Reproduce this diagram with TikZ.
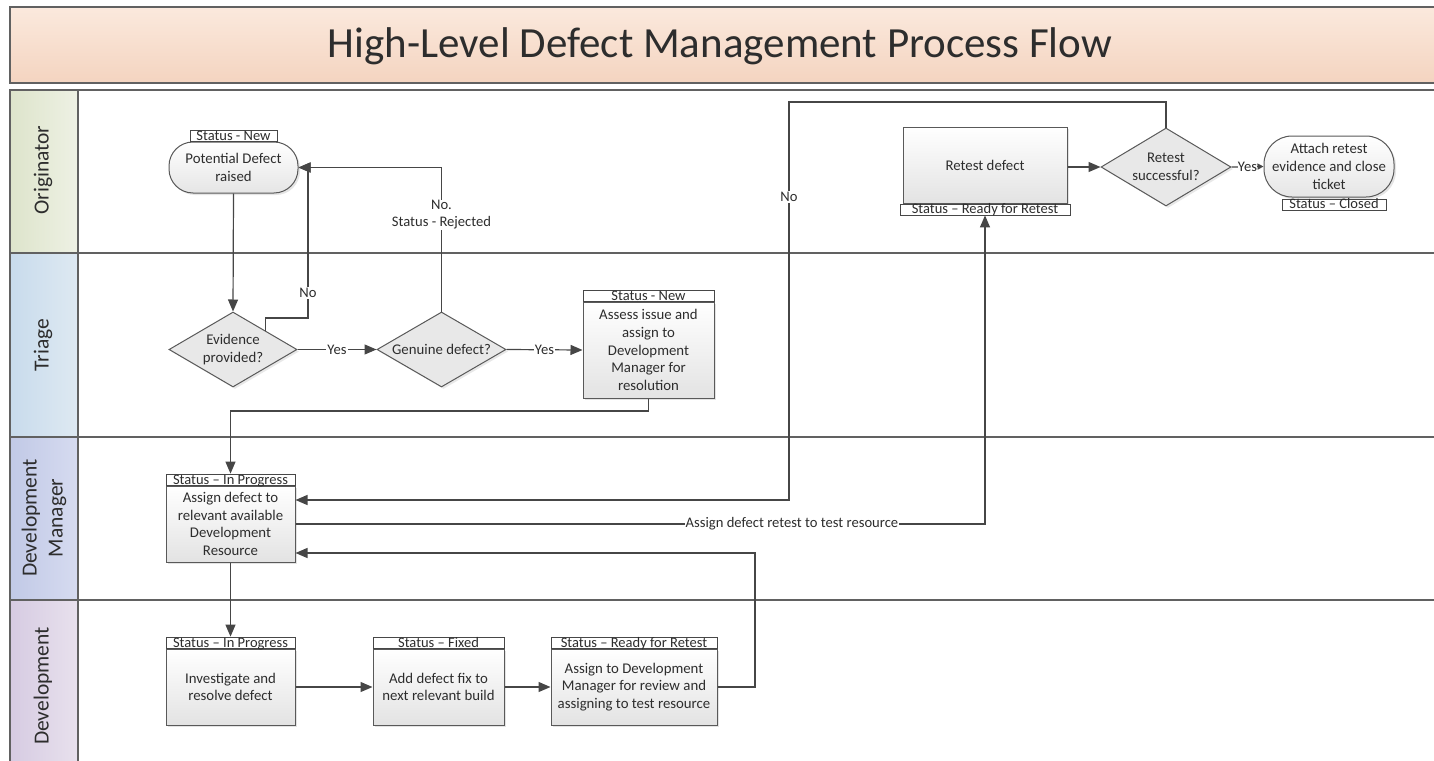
\documentclass[tikz,border=0pt]{standalone}
\usepackage{fontspec}
\setmainfont{Carlito}
\usetikzlibrary{shapes.geometric,shapes.misc,arrows.meta,shadows,calc}
\definecolor{titletop}{RGB}{251,233,221}
\definecolor{titlebot}{RGB}{244,212,192}
\definecolor{origL}{RGB}{221,228,203}
\definecolor{origR}{RGB}{238,241,228}
\definecolor{triL}{RGB}{200,219,236}
\definecolor{triR}{RGB}{222,233,242}
\definecolor{dmL}{RGB}{193,201,230}
\definecolor{dmR}{RGB}{214,219,240}
\definecolor{devL}{RGB}{214,203,226}
\definecolor{devR}{RGB}{232,225,237}
\definecolor{ink}{RGB}{45,45,45}
\definecolor{wire}{RGB}{70,70,70}
\begin{document}
\begin{tikzpicture}[x=1pt,y=-1pt,
  frame/.style={draw=black!62, line width=1.4pt},
  conn/.style={draw=wire, line width=1.2pt, -{Triangle[length=12pt,width=10pt]}},
  smallconn/.style={draw=wire, line width=1.2pt, -{Triangle[length=6pt,width=6pt]}},
  lbl/.style={fill=white, inner sep=1pt, font=\fontsize{14.6}{17}\selectfont, text=ink, align=center},
  lanelbl/.style={rotate=90, font=\fontsize{21.5}{26}\selectfont, text=ink, align=center},
  procbox/.style={rectangle, draw=black!65, line width=1pt, top color=white, bottom color=black!11,
    drop shadow={opacity=0.22, shadow xshift=2pt, shadow yshift=-2pt},
    align=center, inner sep=2pt, font=\fontsize{14.8}{17.6}\selectfont, text=ink},
  statbar/.style={rectangle, draw=black!72, line width=0.9pt, fill=white, inner xsep=0pt, inner ysep=0pt,
    minimum height=11pt, text height=9pt, text depth=0pt, font=\fontsize{14.5}{15}\selectfont, text=ink},
  decision/.style={diamond, aspect=1.7, draw=black!65, line width=1pt, fill=black!9, inner sep=0pt,
    drop shadow={opacity=0.18, shadow xshift=2pt, shadow yshift=-2pt},
    align=center, font=\fontsize{14.8}{17.6}\selectfont, text=ink},
  term/.style={rectangle, rounded corners=24pt, draw=black!65, line width=1pt, top color=white, bottom color=black!10,
    drop shadow={opacity=0.2, shadow xshift=2pt, shadow yshift=-2pt},
    inner sep=1pt, align=center, font=\fontsize{14.8}{17.6}\selectfont, text=ink}
]
\clip (0,0) rectangle (1434,760);
\useasboundingbox (0,0) rectangle (1434,760);
\fill[white] (0,0) rectangle (1434,760);

% title band
\path[frame, top color=titletop, bottom color=titlebot] (10,7) rectangle (1460,83);
\node[font=\fontsize{43}{50}\selectfont, text=ink] (title) at (720,46) {High-Level Defect Management Process Flow};

% lane label backgrounds
\path[left color=origL, right color=origR] (10,90) rectangle (78,253);
\path[left color=triL, right color=triR] (10,253) rectangle (78,437);
\path[left color=dmL, right color=dmR] (10,437) rectangle (78,600);
\path[left color=devL, right color=devR] (10,600) rectangle (78,780);

% lane frame
\draw[frame] (10,90) rectangle (1460,790);
\draw[frame] (78,90) -- (78,790);
\draw[frame] (10,253) -- (1460,253);
\draw[frame] (10,437) -- (1460,437);
\draw[frame] (10,600) -- (1460,600);

% lane labels
\node[lanelbl] (lo) at (43,170) {Originator};
\node[lanelbl] (lt) at (43,345) {Triage};
\node[lanelbl] (ldm) at (44,518) {Development\\Manager};
\node[lanelbl] (ld) at (43,686) {Development};

% nodes
\node[term, minimum width=129pt, minimum height=51pt] (pd) at (233.5,167.5) {Potential Defect\\raised};
\node[statbar, minimum width=87pt, anchor=south] (pds) at (pd.north) {Status - New};

\node[decision, minimum width=128pt, minimum height=75pt] (ev) at (233,349.5) {Evidence\\provided?};
\node[decision, minimum width=129pt, minimum height=75pt] (gd) at (441.5,349.5) {Genuine defect?};

\node[procbox, minimum width=131pt, minimum height=96pt] (as) at (648.5,350) {Assess issue and\\assign to\\Development\\Manager for\\resolution};
\node[statbar, minimum width=131pt, anchor=south] (ass) at (as.north) {Status - New};

\node[procbox, minimum width=129pt, minimum height=76pt] (dm) at (230.5,524) {Assign defect to\\relevant available\\Development\\Resource};
\node[statbar, minimum width=129pt, anchor=south] (dms) at (dm.north) {Status – In Progress};

\node[procbox, minimum width=129pt, minimum height=76pt] (inv) at (230.5,687) {Investigate and\\resolve defect};
\node[statbar, minimum width=129pt, anchor=south] (ins) at (inv.north) {Status – In Progress};

\node[procbox, minimum width=131pt, minimum height=76pt] (add) at (438.5,687) {Add defect fix to\\next relevant build};
\node[statbar, minimum width=131pt, anchor=south] (adds) at (add.north) {Status – Fixed};

\node[procbox, minimum width=166pt, minimum height=76pt] (asd) at (634,687) {Assign to Development\\Manager for review and\\assigning to test resource};
\node[statbar, minimum width=166pt, anchor=south] (asds) at (asd.north) {Status – Ready for Retest};

\node[procbox, minimum width=164pt, minimum height=76pt] (rt) at (985,165) {Retest defect};
\node[statbar, minimum width=170pt, anchor=north] (rts) at (rt.south) {Status – Ready for Retest};

\node[decision, minimum width=130pt, minimum height=78pt] (rs) at (1166,167) {Retest\\successful?};

\node[term, rounded corners=28pt, minimum width=130pt, minimum height=61pt] (cl) at (1329,166.5) {Attach retest\\evidence and close\\ticket};
\node[statbar, minimum width=104pt, anchor=north] (cls) at ($(cl.south)+(5,1)$) {Status – Closed};

% connectors
\draw[conn] (pd.south) -- (ev.north);

\coordinate (k1) at (308,318);
\draw[conn] (ev.north east) |- (k1) |- (pd.east);
\node[lbl] (no1) at (308,293) {No};

\draw[conn] (gd.north) |- (pd.east);
\node[lbl] (no2) at (441.5,215) {No.\\Status - Rejected};

\draw[conn] (ev.east) -- node[lbl] (y1) {Yes} (gd.west);
\draw[conn] (gd.east) -- node[lbl] (y2) {Yes} (as.west);

\coordinate (k2) at (648.5,411);
\draw[conn] (as.south) -- (k2) -| (dms.north);

\coordinate (k3) at (789,102);
\draw[conn] (rs.north) |- (k3) |- ($(dm.east)+(0,-24)$);
\node[lbl] (no3) at (789,197) {No};

\draw[conn] (dm.east) -| node[lbl, pos=0.36] (lr) {Assign defect retest to test resource} (rts.south);

\draw[conn] (dm.south) -- (ins.north);
\draw[conn] (inv.east) -- (add.west);
\draw[conn] (add.east) -- (asd.west);

\coordinate (k4) at (755,553);
\draw[conn] (asd.east) -| (k4) -- ($(dm.east)+(0,29)$);

\draw[conn] (rt.east |- rs.west) -- (rs.west);
\draw[smallconn] (rs.east) -- node[lbl, inner sep=0.3pt] (y3) {Yes} (cl.west);
\end{tikzpicture}
\end{document}
